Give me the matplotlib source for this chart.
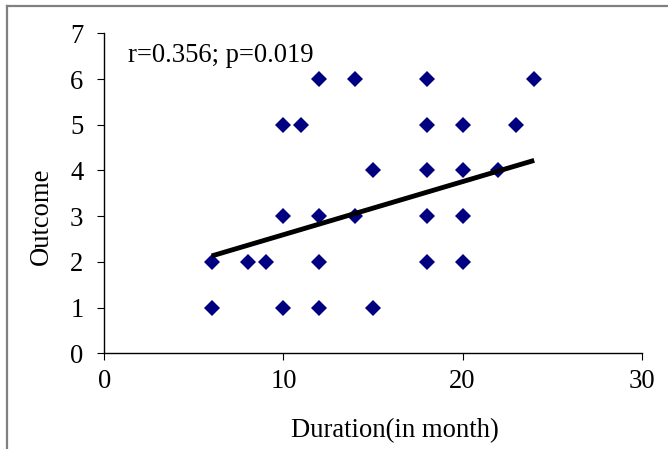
import matplotlib
matplotlib.use("Agg")
import matplotlib.pyplot as plt
from matplotlib.lines import Line2D

plt.rcParams['font.family'] = ['Liberation Serif', 'DejaVu Serif']

# Data
duration = [12, 14, 18, 24,
             10, 11, 18, 20, 23,
             15, 18, 20, 22,
             10, 12, 14, 18, 20,
             6, 8, 9, 12, 18, 20,
             6, 10, 12, 15]
outcome = [6, 6, 6, 6,
           5, 5, 5, 5, 5,
           4, 4, 4, 4,
           3, 3, 3, 3, 3,
           2, 2, 2, 2, 2, 2,
           1, 1, 1, 1]
trend_x = [6, 24]
trend_y = [2.13, 4.22]
x_ticks = [0, 10, 20, 30]
y_ticks = [0, 1, 2, 3, 4, 5, 6, 7]
annotation = "r=0.356; p=0.019"

FS = 19.2
W, H = 668, 449
fig = plt.figure(figsize=(W / 100, H / 100), dpi=100)
ax = fig.add_axes([104.3 / W, 1 - 353.3 / H, (641.7 - 104.3) / W, (353.3 - 33.3) / H])

ax.plot(duration, outcome, linestyle='none', marker='D', ms=8.4,
        color='#000080', markeredgewidth=0, zorder=3)
ax.plot(trend_x, trend_y, color='black', lw=3.5, solid_capstyle='butt', zorder=4)

ax.set_xlim(0, 30)
ax.set_ylim(0, 7)
ax.set_xticks(x_ticks)
ax.set_yticks(y_ticks)
for s in ['top', 'right']:
    ax.spines[s].set_visible(False)
for s in ['left', 'bottom']:
    ax.spines[s].set_linewidth(1.0)
    ax.spines[s].set_color('black')
ax.tick_params(axis='both', direction='out', length=5, width=0.8, labelsize=FS)
ax.tick_params(axis='y', pad=10)
ax.tick_params(axis='x', pad=6.5)

ax.text(0.044, 0.911, annotation, transform=ax.transAxes, fontsize=FS,
        ha='left', va='baseline')

fig.text(395 / W, 12.3 / H, "Duration(in month)", fontsize=FS, ha='center', va='baseline')
fig.text(41 / W, 1 - 216 / H, "Outcome", fontsize=FS, rotation=90, ha='center', va='center')

# Chart-area border (top and left visible)
fig.add_artist(Line2D([6.5 / W, 6.5 / W], [0, 1 - 5.5 / H], transform=fig.transFigure,
                      color='#808080', lw=1.6))
fig.add_artist(Line2D([6.5 / W, 1], [1 - 5.5 / H, 1 - 5.5 / H], transform=fig.transFigure,
                      color='#808080', lw=1.6))

fig.savefig("out.png", dpi=100)
